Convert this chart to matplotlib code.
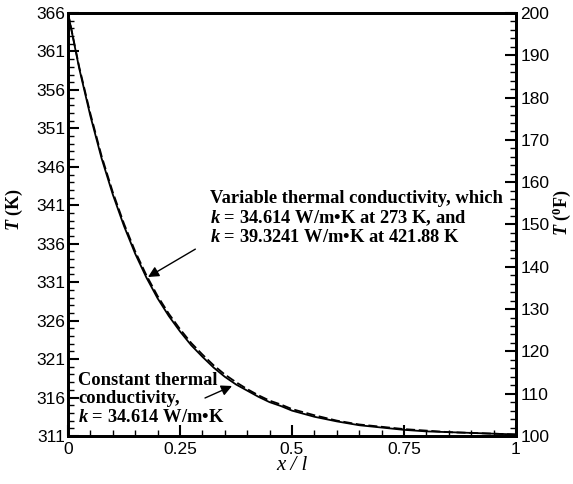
import matplotlib
matplotlib.use("Agg")
import matplotlib.pyplot as plt
from matplotlib.ticker import MultipleLocator

# data
x_vals = [0, 0.025, 0.05, 0.075, 0.1, 0.125, 0.15, 0.175, 0.2, 0.225, 0.25,
          0.275, 0.3, 0.325, 0.35, 0.375, 0.4, 0.425, 0.45, 0.475, 0.5,
          0.55, 0.6, 0.65, 0.7, 0.75, 0.8, 0.85, 0.9, 0.95, 1.0]
T_constant = [366.0, 358.8, 352.6, 347.1, 342.4, 338.3, 334.7, 331.6, 328.9, 326.6, 324.6,
              322.8, 321.3, 319.9, 318.7, 317.7, 316.9, 316.1, 315.4, 314.9, 314.3,
              313.5, 312.9, 312.4, 312.1, 311.8, 311.6, 311.5, 311.4, 311.3, 311.2]
T_variable = [366.0, 359.0, 352.9, 347.4, 342.7, 338.6, 335.0, 331.9, 329.2, 326.9, 324.9,
              323.1, 321.6, 320.2, 319.0, 318.0, 317.1, 316.3, 315.6, 315.1, 314.5,
              313.7, 313.0, 312.5, 312.2, 311.9, 311.7, 311.5, 311.4, 311.3, 311.2]

x_ticks = [0, 0.25, 0.5, 0.75, 1]
x_tick_labels = ["0", "0.25", "0.5", "0.75", "1"]
left_ticks = [311, 316, 321, 326, 331, 336, 341, 346, 351, 356, 361, 366]
right_ticks = [100, 110, 120, 130, 140, 150, 160, 170, 180, 190, 200]

serif = "Liberation Serif"
sans = "Liberation Sans"

plt.rcParams["mathtext.fontset"] = "custom"
plt.rcParams["mathtext.it"] = "Liberation Serif:italic:bold"
plt.rcParams["mathtext.rm"] = "Liberation Serif:bold"
plt.rcParams["mathtext.bf"] = "Liberation Serif:bold"
plt.rcParams["mathtext.sf"] = "Liberation Serif:bold"
plt.rcParams["mathtext.default"] = "it"

fig = plt.figure(figsize=(5.73, 4.84), dpi=100)
ax = fig.add_axes([68/573, 48/484, 448/573, 423/484])

ax.plot(x_vals, T_constant, color="black", lw=1.3, solid_capstyle="butt")
ax.plot(x_vals, T_variable, color="black", lw=1.3, ls=(0, (5, 2)))

ax.set_xlim(0, 1)
ax.set_ylim(311, 366)
ax.set_xticks(x_ticks)
ax.set_xticklabels(x_tick_labels)
ax.set_yticks(left_ticks)
ax.xaxis.set_minor_locator(MultipleLocator(0.05))
ax.yaxis.set_minor_locator(MultipleLocator(1))
ax.tick_params(axis="both", which="major", direction="in", length=8, width=1.5,
               labelsize=12.5, top=False, right=False)
ax.tick_params(axis="both", which="minor", direction="in", length=4, width=1,
               top=False, right=False)
ax.tick_params(axis="x", pad=4)
ax.tick_params(axis="y", pad=2)
for lab in ax.get_xticklabels() + ax.get_yticklabels():
    lab.set_fontfamily(sans)
for sp in ax.spines.values():
    sp.set_linewidth(2)

ax2 = ax.twinx()
ax2.set_ylim(100, 200)
ax2.set_yticks(right_ticks)
ax2.yaxis.set_minor_locator(MultipleLocator(2))
ax2.tick_params(axis="y", which="major", direction="in", length=8, width=1.5, labelsize=12.5, pad=3)
ax2.tick_params(axis="y", which="minor", direction="in", length=4, width=1)
for lab in ax2.get_yticklabels():
    lab.set_fontfamily(sans)
for sp in ax2.spines.values():
    sp.set_linewidth(2)

fig.text(14/573, 1 - 210/484, r"$T$ (K)", rotation=90, ha="center", va="center",
         fontsize=13, fontfamily=serif, fontweight="bold")
fig.text(562/573, 1 - 213/484, r"$T$ ($^0$F)", rotation=90, ha="center", va="center",
         fontsize=13, fontfamily=serif, fontweight="bold")
fig.text(292/573, 1 - 466/484, "x / l", ha="center", va="center", fontsize=15,
         fontfamily=serif, fontstyle="italic")

var_text = ("Variable thermal conductivity, which\n"
            r"$k$ = 34.614 W/m•K at 273 K, and" "\n"
            r"$k$ = 39.3241 W/m•K at 421.88 K")
const_text = ("Constant thermal\nconductivity,\n"
              r"$k$ = 34.614 W/m•K")

ax.annotate(var_text, xy=(148/573, 1 - 277/484), xycoords="figure fraction",
            xytext=(210/573, 1 - 190/484), textcoords="figure fraction",
            ha="left", va="top", fontsize=13.3, fontfamily=serif, fontweight="bold",
            linespacing=1.1,
            arrowprops=dict(arrowstyle="-|>", color="black", lw=1, mutation_scale=16,
                            shrinkA=0, shrinkB=0, relpos=(-0.05, -0.05)))
ax.annotate("", xy=(232/573, 1 - 386/484), xycoords="figure fraction",
            xytext=(205/573, 1 - 398/484), textcoords="figure fraction",
            arrowprops=dict(arrowstyle="-|>", color="black", lw=1, mutation_scale=16,
                            shrinkA=0, shrinkB=0))
ax.text(78/573, 1 - 372/484, const_text, transform=fig.transFigure,
        ha="left", va="top", fontsize=13.3, fontfamily=serif, fontweight="bold",
        linespacing=1.1)

fig.savefig("out.png", dpi=100)
